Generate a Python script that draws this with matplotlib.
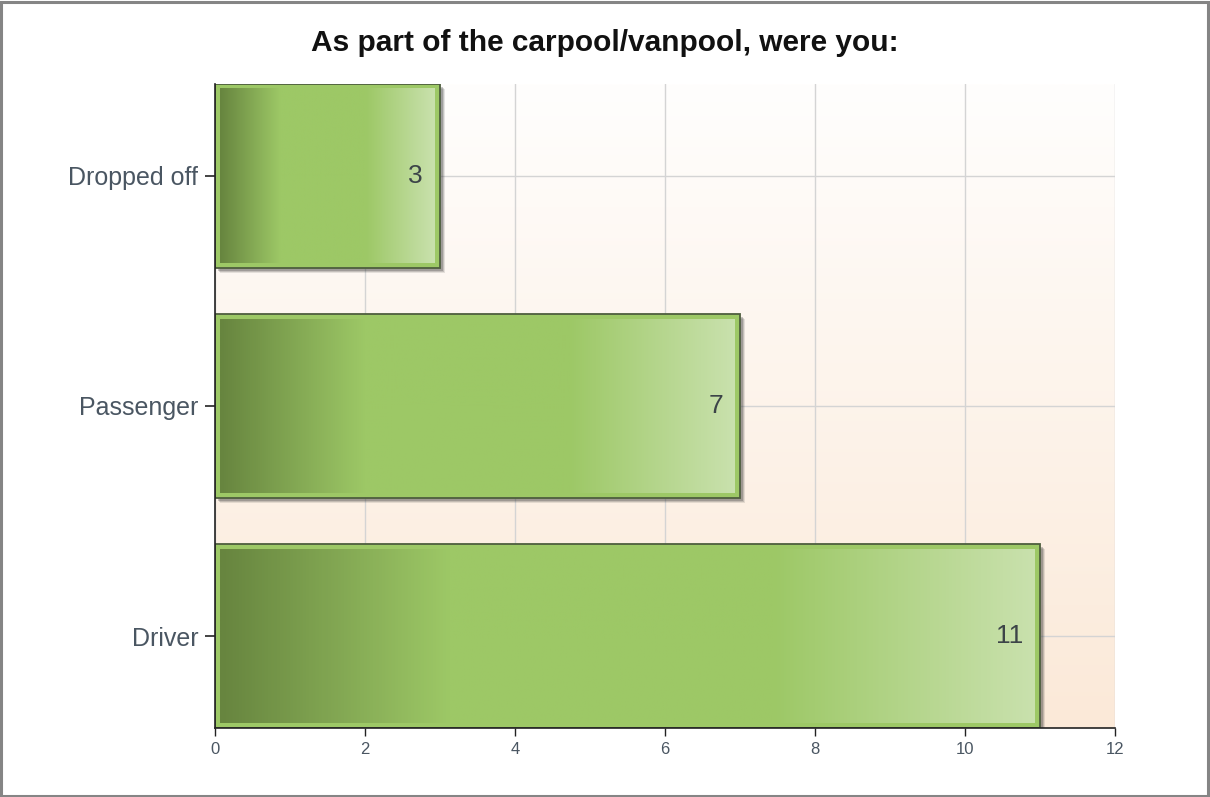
import numpy as np
import matplotlib
matplotlib.use("Agg")
import matplotlib.pyplot as plt
from matplotlib.colors import LinearSegmentedColormap
from matplotlib.patches import Rectangle
from matplotlib.transforms import offset_copy

categories = ["Driver", "Passenger", "Dropped off"]
values = [11, 7, 3]
xticks = [0, 2, 4, 6, 8, 10, 12]
title = "As part of the carpool/vanpool, were you:"

plt.rcParams['font.family'] = ['Liberation Sans', 'DejaVu Sans']

W, H = 1210, 797
fig = plt.figure(figsize=(W / 100, H / 100), dpi=100)
ax = fig.add_axes([215 / W, 1 - 728 / H, 900 / W, 644 / H])

ax.set_xlim(0, 12)
ax.set_ylim(-0.4, 2.4)

# background gradient
bg = LinearSegmentedColormap.from_list("bg", ["#fbe9d8", "#fffefd"])
ax.imshow(np.linspace(0, 1, 256).reshape(-1, 1), cmap=bg, aspect="auto",
          extent=(0, 1, 0, 1), transform=ax.transAxes, origin="lower", zorder=0)

ax.set_xticks(xticks)
ax.set_yticks(range(len(categories)))
ax.set_yticklabels(categories)
ax.grid(True, color="#d4d4d4", linewidth=1.0, zorder=1)
ax.set_axisbelow(True)

for s in ["top", "right"]:
    ax.spines[s].set_visible(False)
for s in ["left", "bottom"]:
    ax.spines[s].set_color("#222222")
    ax.spines[s].set_linewidth(1.2)
    ax.spines[s].set_zorder(6)

ax.tick_params(axis="y", length=7, width=1.2, color="#222222", labelsize=18,
               labelcolor="#4a5662", pad=5)
ax.tick_params(axis="x", length=6, width=1.0, color="#222222", labelsize=12,
               labelcolor="#4a5662", pad=4)

bar_cmap = LinearSegmentedColormap.from_list(
    "bar", [(0.0, "#67853f"), (0.28, "#9dc866"), (0.68, "#9dc866"), (1.0, "#c9e1ad")])

h = 0.8
# pixel-size helpers
ppx = 12 / 900.0      # data units per pixel in x
ppy = 2.8 / 644.0     # data units per pixel in y
inset = 5
for i, v in enumerate(values):
    y0 = i - h / 2
    # shadow
    for k, a in [(5, 0.12), (4, 0.18), (3, 0.25)]:
        ax.add_patch(Rectangle((k * ppx, y0 - k * ppy), v, h, facecolor="#333333",
                               edgecolor="none", alpha=a, zorder=3))
    ax.add_patch(Rectangle((0, y0), v, h, facecolor="#9dc866", edgecolor="#4e5e3e",
                           linewidth=1.3, zorder=4))
    grad = np.linspace(0, 1, 512).reshape(1, -1)
    ax.imshow(grad, cmap=bar_cmap, aspect="auto", origin="lower", zorder=5,
              extent=(inset * ppx, v - inset * ppx, y0 + inset * ppy, y0 + h - inset * ppy))
    ax.text(v, i, str(v), ha="right", va="center", fontsize=19, color="#3c4448",
            transform=offset_copy(ax.transData, fig=fig, x=-17, y=0, units="dots"),
            zorder=7)

ax.set_xlim(0, 12)
ax.set_ylim(-0.4, 2.4)

fig.text(605 / W, 1 - 43 / H, title, ha="center", va="center", fontsize=21.5,
         fontweight="bold", color="#111111")

# outer frame
fig.patches.append(Rectangle((1 / W, 1 / H), 1 - 3 / W, 1 - 3 / H, transform=fig.transFigure,
                             fill=False, edgecolor="#858585", linewidth=2.2))

fig.savefig("out.png", dpi=100)
